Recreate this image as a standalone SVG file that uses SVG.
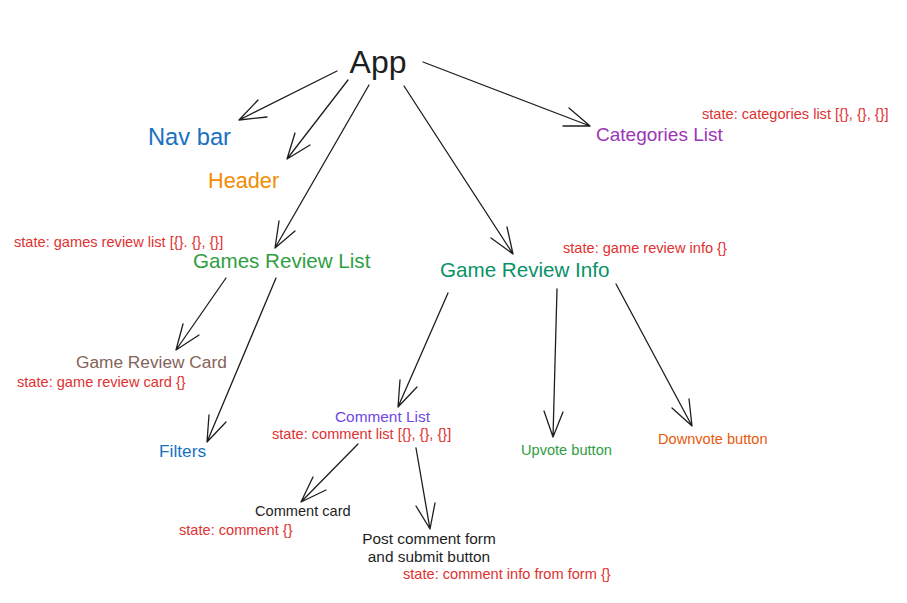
<svg xmlns="http://www.w3.org/2000/svg" width="907" height="603" viewBox="0 0 907 603">
<style>
text{font-family:"Liberation Sans",Arial,sans-serif}
.st{font-size:14.6px;fill:#e03131}
.c path{fill:none;stroke:#1e1e1e;stroke-width:1.3;stroke-linecap:round;stroke-linejoin:round}
</style>
<rect width="907" height="603" fill="#ffffff"/>
<g class="c" id="connectors">
<path d="M337,71 L239,120 M258,100 L239,120 L267,117"/>
<path d="M348,80 L287,159 M295,133 L287,159 L310,145"/>
<path d="M369,85 L275,248 M279,221 L275,248 L295,231"/>
<path d="M404,86 L513,254 M491,238 L513,254 L507,227"/>
<path d="M423,62 L590,126 M569,108 L590,126 L563,126"/>
<path d="M226,278 L176,350 M183,324 L176,350 L199,335"/>
<path d="M276,278 L207,442 M209,415 L207,442 L226,422"/>
<path d="M448,293 L398,407 M400,380 L398,407 L417,387"/>
<path d="M557,289 L553,437 M544,411 L553,437 L563,412"/>
<path d="M616,284 L692,426 M672,408 L692,426 L689,399"/>
<path d="M358,444 L301,502 M313,477 L301,502 L326,490"/>
<path d="M416,448 L430,529 M416,506 L430,529 L435,503"/>
</g>
<g id="app"><text x="378" y="73" font-size="32" fill="#1e1e1e" text-anchor="middle">App</text></g>
<g id="navbar"><text x="148" y="145" font-size="23.7" fill="#1971c2">Nav bar</text></g>
<g id="header"><text x="208" y="188" font-size="21.7" fill="#f08c00">Header</text></g>
<g id="categories">
<text x="596" y="141" font-size="19" fill="#9c36b5">Categories List</text>
<text class="st" x="702" y="119">state: categories list [{}, {}, {}]</text>
</g>
<g id="games-review-list">
<text class="st" x="14" y="247">state: games review list [{}. {}, {}]</text>
<text x="193" y="268" font-size="20.6" fill="#2f9e44">Games Review List</text>
</g>
<g id="game-review-info">
<text class="st" x="563" y="253">state: game review info {}</text>
<text x="440" y="277" font-size="20.6" fill="#099268">Game Review Info</text>
</g>
<g id="game-review-card">
<text x="76" y="368" font-size="17.3" fill="#846358">Game Review Card</text>
<text class="st" x="17" y="387">state: game review card {}</text>
</g>
<g id="filters"><text x="159" y="457" font-size="17.3" fill="#1971c2">Filters</text></g>
<g id="comment-list">
<text x="335" y="422" font-size="15.4" fill="#7048e8">Comment List</text>
<text class="st" x="272" y="439">state: comment list [{}, {}, {}]</text>
</g>
<g id="upvote"><text x="521" y="455" font-size="14.6" fill="#2f9e44">Upvote button</text></g>
<g id="downvote"><text x="658" y="444" font-size="14.6" fill="#e8590c">Downvote button</text></g>
<g id="comment-card">
<text x="255" y="516" font-size="14.6" fill="#1e1e1e">Comment card</text>
<text class="st" x="179" y="535">state: comment {}</text>
</g>
<g id="post-comment">
<text x="429" y="544" font-size="15.4" fill="#1e1e1e" text-anchor="middle">Post comment form</text>
<text x="429" y="562" font-size="15.4" fill="#1e1e1e" text-anchor="middle">and submit button</text>
<text class="st" x="403" y="579">state: comment info from form {}</text>
</g>
</svg>
